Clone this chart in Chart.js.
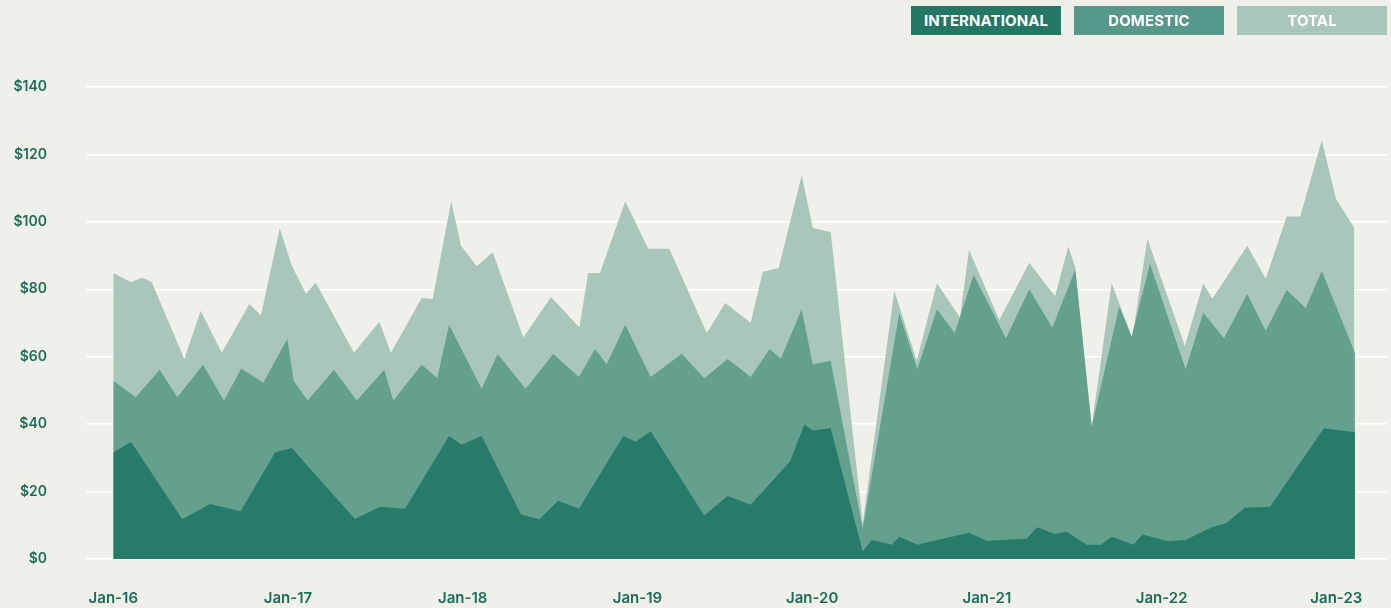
<!DOCTYPE html>
<html>
<head>
<meta charset="utf-8">
<title>International vs Domestic</title>
<script src="https://cdn.jsdelivr.net/npm/chart.js@4.4.1/dist/chart.umd.min.js"></script>
<style>
  html, body { margin: 0; padding: 0; background: #eff0ea; }
  #wrap { position: relative; width: 1391px; height: 608px; }
  #chart { position: absolute; left: 0; top: 0; }
  .legend { position: absolute; top: 6px; height: 29px; width: 150px;
    font: 700 15px "Inter", sans-serif; line-height: 29px; letter-spacing: 0.1px;
    text-align: center; color: #fff; }
</style>
</head>
<body>
<div id="wrap">
  <canvas id="chart" width="1391" height="608"></canvas>
  <div class="legend" style="left:911px;background:#237763">INTERNATIONAL</div>
  <div class="legend" style="left:1074px;background:#56988a">DOMESTIC</div>
  <div class="legend" style="left:1237px;background:#a9c6bb">TOTAL</div>
</div>
<script>
// x positions are months since Jan-16 (readings are not evenly spaced)
const intlMonths = [0, 1.22, 4.74, 6.64, 8.75, 11.11, 12.25, 16.59, 18.32, 20.04, 23.06, 23.93, 25.3, 28.0,
  29.26, 30.56, 31.98, 35.03, 35.88, 36.91, 40.59, 42.2, 43.78, 46.48, 47.46, 48.04, 49.27, 51.47, 52.09,
  53.46, 53.98, 55.22, 58.77, 59.99, 62.73, 63.46, 64.68, 65.48, 66.85, 67.84, 68.57, 70.05, 70.7, 72.42,
  73.65, 75.44, 76.42, 77.73, 79.44, 83.15, 85.28];
const intlValues = [31.6, 34.7, 11.8, 16.3, 14.2, 31.6, 32.9, 11.9, 15.5, 14.9, 36.5, 33.9, 36.5, 13.2,
  11.8, 17.3, 14.9, 36.5, 34.8, 37.9, 12.9, 18.7, 16.1, 28.9, 39.9, 38.1, 38.8, 2.2, 5.6,
  4.2, 6.6, 4.2, 7.8, 5.4, 6.0, 9.4, 7.4, 8.1, 4.2, 4.2, 6.6, 4.2, 7.3, 5.3,
  5.6, 9.4, 10.6, 15.2, 15.5, 38.8, 37.6];

const domMonths = [0, 1.54, 3.19, 4.4, 6.16, 7.6, 8.79, 10.3, 11.95, 12.39, 13.35, 15.16, 16.72, 18.61,
  19.23, 21.18, 22.25, 23.06, 25.3, 26.4, 28.32, 30.22, 31.98, 33.08, 33.89, 35.16, 36.91, 39.04, 40.59,
  42.2, 43.78, 45.08, 45.84, 47.28, 48.04, 49.27, 51.47, 53.98, 55.22, 56.57, 57.79, 59.09, 61.31, 62.91,
  64.49, 66.07, 67.2, 69.09, 69.94, 71.2, 73.65, 74.86, 76.28, 77.88, 79.15, 80.59, 81.9, 83.0, 85.28];
const domValues = [52.9, 48.0, 56.1, 48.0, 57.6, 47.0, 56.5, 52.3, 65.3, 52.8, 47.0, 56.1, 47.0, 56.1,
  47.0, 57.6, 53.7, 69.5, 50.5, 60.8, 50.5, 60.8, 54.0, 62.3, 57.8, 69.5, 54.0, 60.9, 53.6,
  59.3, 54.0, 62.3, 59.4, 74.1, 57.8, 58.8, 9.0, 72.9, 56.3, 74.1, 67.0, 84.3, 65.5, 80.0,
  68.7, 85.8, 39.3, 74.9, 66.0, 87.6, 56.3, 73.1, 65.5, 78.6, 67.7, 79.8, 74.4, 85.5, 61.1];

const totalMonths = [0, 1.22, 1.99, 2.64, 4.88, 6.0, 7.45, 9.34, 10.14, 11.43, 12.27, 13.24, 13.9, 16.53,
  18.27, 19.07, 21.18, 21.94, 23.21, 23.88, 24.96, 26.06, 28.16, 30.06, 32.01, 32.62, 33.43, 35.16, 36.74,
  38.19, 40.76, 42.03, 43.78, 44.6, 45.7, 47.28, 48.04, 49.27, 51.47, 53.64, 55.18, 56.57, 58.15, 58.77,
  60.85, 62.91, 64.68, 65.59, 66.07, 67.2, 68.57, 69.99, 71.02, 73.6, 74.86, 75.48, 77.88, 79.15, 80.59,
  81.52, 83.0, 83.98, 85.24];
const totalValues = [84.8, 82.1, 83.5, 82.1, 59.3, 73.6, 61.2, 75.6, 72.2, 98.0, 86.9, 78.7, 82.0, 61.2,
  70.4, 61.2, 77.4, 77.1, 106.1, 92.9, 86.8, 91.0, 65.7, 77.7, 68.7, 84.8, 84.8, 106.1, 92.0,
  92.0, 67.0, 75.9, 70.1, 85.1, 86.3, 113.8, 98.2, 97.0, 10.5, 79.5, 58.9, 81.8, 71.6, 91.7,
  70.9, 87.9, 77.9, 92.7, 86.5, 39.3, 81.8, 65.5, 95.0, 63.2, 81.8, 77.2, 92.9, 83.1, 101.6,
  101.6, 124.2, 106.8, 98.2];

const tickMonths = [0, 12, 24, 36, 48, 60, 72, 84];
const tickLabels = ["Jan-16", "Jan-17", "Jan-18", "Jan-19", "Jan-20", "Jan-21", "Jan-22", "Jan-23"];

const toPoints = (xs, ys) => xs.map((x, i) => ({ x, y: ys[i] }));

const labelColor = "#1c6c57";
const tickFont = { family: "Inter", size: 14, weight: "600" };

const areaStyle = {
  fill: "origin",
  borderWidth: 0,
  pointRadius: 0,
  pointHoverRadius: 0,
  tension: 0,
};

new Chart(document.getElementById("chart"), {
  type: "line",
  data: {
    datasets: [
      { ...areaStyle, label: "International", data: toPoints(intlMonths, intlValues),
        backgroundColor: "rgba(32, 119, 101, 0.9)", borderColor: "rgba(32, 119, 101, 0.9)" },
      { ...areaStyle, label: "Domestic", data: toPoints(domMonths, domValues),
        backgroundColor: "rgba(92, 156, 138, 0.9)", borderColor: "rgba(92, 156, 138, 0.9)" },
      { ...areaStyle, label: "Total", data: toPoints(totalMonths, totalValues),
        backgroundColor: "rgba(161, 193, 182, 0.9)", borderColor: "rgba(161, 193, 182, 0.9)" },
    ],
  },
  options: {
    responsive: false,
    animation: false,
    devicePixelRatio: 1,
    layout: { padding: { top: 87, right: 4, bottom: 0, left: 0 } },
    plugins: {
      legend: { display: false },
      tooltip: { enabled: false },
    },
    scales: {
      x: {
        type: "linear",
        min: -1.875,
        max: 87.48,
        grid: { display: false },
        border: { display: false },
        afterBuildTicks: (scale) => {
          scale.ticks = tickMonths.map((v) => ({ value: v }));
        },
        afterFit: (scale) => {
          scale.height = 49;
        },
        ticks: {
          autoSkip: false,
          maxRotation: 0,
          padding: 22,
          color: labelColor,
          font: { ...tickFont, size: 15 },
          callback: (value, index) => tickLabels[index],
        },
      },
      y: {
        min: 0,
        max: 140,
        grid: { color: "#ffffff", lineWidth: 1.5, drawTicks: false },
        border: { display: false },
        afterFit: (scale) => {
          scale.width = 86;
        },
        ticks: {
          stepSize: 20,
          padding: 39,
          color: labelColor,
          font: tickFont,
          callback: (value) => "$" + value,
        },
      },
    },
  },
});
</script>
</body>
</html>
